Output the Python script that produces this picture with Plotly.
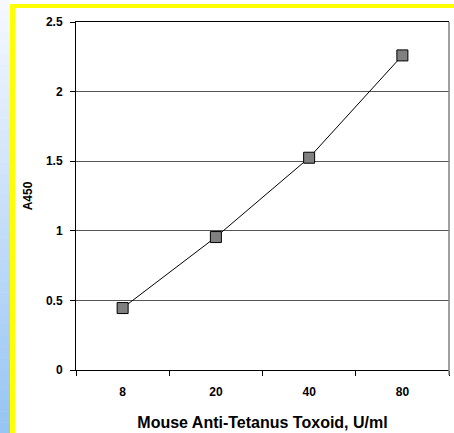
import plotly.graph_objects as go

categories = ["8", "20", "40", "80"]
a450 = [0.445, 0.955, 1.525, 2.26]
y_ticks = [0, 0.5, 1, 1.5, 2, 2.5]
y_tick_labels = ["0", "0.5", "1", "1.5", "2", "2.5"]

W, H = 454, 433
ML, MR, MT, MB = 76, 5, 22, 63
PW, PH = W - ML - MR, H - MT - MB


def px(x):
    return (x - ML) / PW


def py(y):
    return (H - MB - y) / PH


font = dict(family="Liberation Sans, Arial, sans-serif", color="black")

fig = go.Figure()
fig.add_trace(go.Scatter(
    x=categories, y=a450, mode="lines+markers",
    line=dict(color="black", width=1),
    marker=dict(symbol="square", size=11, color="#808080",
                line=dict(color="black", width=1)),
    showlegend=False, hoverinfo="skip",
))

shapes = []
# blue gradient strip on far left
n = 40
top_c = (246, 249, 253)
bot_c = (150, 196, 244)
for i in range(n):
    t = (i + 0.5) / n
    c = tuple(int(round(top_c[k] + (bot_c[k] - top_c[k]) * t)) for k in range(3))
    y0 = H * i / n
    y1 = H * (i + 1) / n + 0.5
    shapes.append(dict(type="rect", xref="paper", yref="paper",
                       x0=px(0), x1=px(10), y0=py(y1), y1=py(y0),
                       fillcolor="rgb(%d,%d,%d)" % c, line=dict(width=0), layer="below"))
# yellow frame
shapes.append(dict(type="rect", xref="paper", yref="paper",
                   x0=px(10), x1=px(15), y0=py(H), y1=py(4),
                   fillcolor="#ffff00", line=dict(width=0), layer="below"))
shapes.append(dict(type="rect", xref="paper", yref="paper",
                   x0=px(10), x1=px(W), y0=py(8), y1=py(4),
                   fillcolor="#ffff00", line=dict(width=0), layer="below"))
# right border of plot area (gray)
shapes.append(dict(type="line", xref="paper", yref="paper",
                   x0=1, x1=1, y0=py(375), y1=1,
                   line=dict(color="#808080", width=1.5)))

fig.update_layout(
    width=W, height=H,
    margin=dict(l=ML, r=MR, t=MT, b=MB),
    paper_bgcolor="white", plot_bgcolor="white",
    shapes=shapes,
    xaxis=dict(
        type="category", tickson="boundaries", ticks="outside", ticklen=5,
        tickcolor="black", showline=True, linecolor="black", linewidth=1, mirror=True,
        showgrid=False, range=[-0.5, 3.5],
        tickvals=categories, ticktext=["<b>%s</b>" % c for c in categories],
        tickfont=dict(size=12, **font), ticklabelstandoff=11,
        title=dict(text="<b>Mouse Anti-Tetanus Toxoid, U/ml</b>",
                   font=dict(size=16, **font), standoff=18),
    ),
    yaxis=dict(
        range=[0, 2.5], tickvals=y_ticks,
        ticktext=["<b>%s</b>" % t for t in y_tick_labels],
        ticks="outside", ticklen=5, tickcolor="black",
        showline=True, linecolor="black", linewidth=1,
        showgrid=True, gridcolor="#555555", gridwidth=1, zeroline=False,
        tickfont=dict(size=12, **font), ticklabelstandoff=5,
        title=dict(text="<b>A450</b>", font=dict(size=12, **font), standoff=10),
    ),
)

fig.write_html("out.html", config={"displayModeBar": False},
               post_script="document.body.style.margin='0';document.body.style.overflow='hidden';")
